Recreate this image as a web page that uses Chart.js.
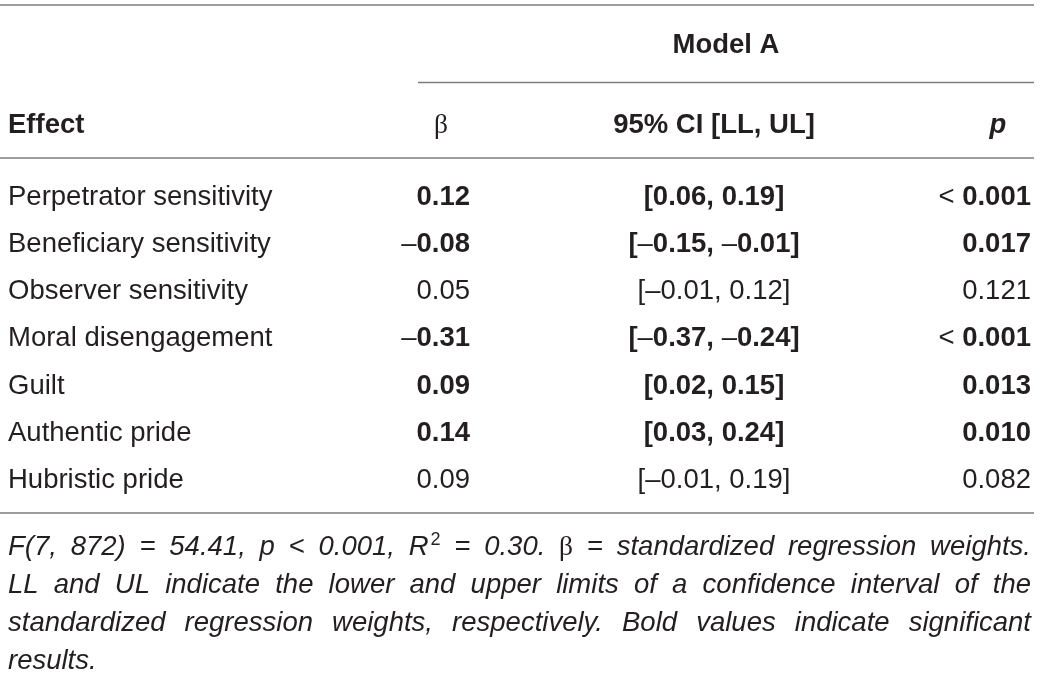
<!DOCTYPE html>
<html lang="en">
<head>
<meta charset="UTF-8" />
<title>Model A regression table</title>
<script src="https://cdn.jsdelivr.net/npm/chart.js"></script>
<style>
    body {
        margin: 0;
        background: #fff;
    }
    canvas {
        display: block;
    }
</style>
</head>
<body>
<canvas id="tabela" width="1040" height="675"></canvas>
<script>
    // Table data
    const effects = ['Perpetrator sensitivity', 'Beneficiary sensitivity', 'Observer sensitivity',
        'Moral disengagement', 'Guilt', 'Authentic pride', 'Hubristic pride'];
    const beta = [0.12, -0.08, 0.05, -0.31, 0.09, 0.14, 0.09];
    const ciLower = [0.06, -0.15, -0.01, -0.37, 0.02, 0.03, -0.01];
    const ciUpper = [0.19, -0.01, 0.12, -0.24, 0.15, 0.24, 0.19];
    const pValues = ['< 0.001', '0.017', '0.121', '< 0.001', '0.013', '0.010', '0.082'];
    const significant = [true, true, false, true, true, true, false];
    const headers = ['Effect', 'β', '95% CI [LL, UL]', 'p'];
    const groupTitle = 'Model A';
    const noteLines = [
        'F(7, 872) = 54.41, p < 0.001, R^2 = 0.30. β = standardized regression weights.',
        'LL and UL indicate the lower and upper limits of a confidence interval of the',
        'standardized regression weights, respectively. Bold values indicate significant',
        'results.'
    ];

    // Layout
    const SANS = '"Liberation Sans", Arial, Helvetica, sans-serif';
    const SERIF = '"Liberation Serif", "DejaVu Serif", serif';
    const FS = 27.5;
    const REG = `${FS}px ${SANS}`;
    const BOLD = `bold ${FS}px ${SANS}`;
    const TEXT = '#231f20';
    const RULE = '#7c7c7c';
    const cols = [
        { x: 8, align: 'left' },
        { x: 470, align: 'right' },
        { x: 714, align: 'center' },
        { x: 1031, align: 'right' }
    ];

    const fmt = v => v.toFixed(2).replace('-', '–');

    const columnText = [
        effects,
        beta.map(fmt),
        ciLower.map((lo, i) => `[${fmt(lo)}, ${fmt(ciUpper[i])}]`),
        pValues
    ];

    // bold values keep dashes and "<" in regular weight
    function segments(str, bold) {
        if (!bold) return [{ t: str, f: REG }];
        return str.split(/([–<])/).filter(s => s !== '')
            .map(s => ({ t: s, f: (s === '–' || s === '<') ? REG : BOLD }));
    }

    function drawRich(ctx, segs, x, y, align) {
        let total = 0;
        segs.forEach(s => { ctx.font = s.f; total += ctx.measureText(s.t).width; });
        let cx = align === 'left' ? x : align === 'right' ? x - total : x - total / 2;
        segs.forEach(s => {
            ctx.font = s.f;
            ctx.fillText(s.t, cx, y);
            cx += ctx.measureText(s.t).width;
        });
    }

    function hline(ctx, x1, x2, y) {
        ctx.beginPath();
        ctx.moveTo(x1, y);
        ctx.lineTo(x2, y);
        ctx.stroke();
    }

    // footnote words: italic, with upright beta and superscript
    const NOTE_FS = 27.5;
    const SUP_FS = 18;
    function wordWidth(ctx, w) {
        if (w === 'β') { ctx.font = `${NOTE_FS}px ${SERIF}`; return ctx.measureText(w).width; }
        if (w.includes('^')) {
            const [base, sup] = w.split('^');
            ctx.font = `italic ${NOTE_FS}px ${SANS}`;
            const a = ctx.measureText(base).width;
            ctx.font = `${SUP_FS}px ${SANS}`;
            return a + ctx.measureText(sup).width + 2;
        }
        ctx.font = `italic ${NOTE_FS}px ${SANS}`;
        return ctx.measureText(w).width;
    }
    function drawWord(ctx, w, x, y) {
        if (w === 'β') { ctx.font = `${NOTE_FS}px ${SERIF}`; ctx.fillText(w, x, y); return; }
        if (w.includes('^')) {
            const [base, sup] = w.split('^');
            ctx.font = `italic ${NOTE_FS}px ${SANS}`;
            ctx.fillText(base, x, y);
            const a = ctx.measureText(base).width;
            ctx.font = `${SUP_FS}px ${SANS}`;
            ctx.fillText(sup, x + a + 2, y - 10);
            return;
        }
        ctx.font = `italic ${NOTE_FS}px ${SANS}`;
        ctx.fillText(w, x, y);
    }

    const tablePlugin = {
        id: 'tablePlugin',
        afterDatasetsDraw(chart) {
            const ctx = chart.ctx;
            const capHalf = FS * 0.358;
            ctx.save();
            ctx.fillStyle = TEXT;
            ctx.textBaseline = 'alphabetic';
            ctx.textAlign = 'left';

            // rules
            ctx.strokeStyle = RULE;
            ctx.lineWidth = 1.5;
            const right = 1034;
            hline(ctx, 0, right, 5);
            hline(ctx, 418, right, 82.5);
            hline(ctx, 0, right, 158);
            hline(ctx, 0, right, 513);

            // group title and column headers
            drawRich(ctx, [{ t: groupTitle, f: BOLD }], 726, 43 + capHalf, 'center');
            const headY = 123 + capHalf;
            drawRich(ctx, [{ t: headers[0], f: BOLD }], cols[0].x, headY, 'left');
            drawRich(ctx, [{ t: headers[1], f: `${FS}px ${SERIF}` }], 441, headY, 'center');
            drawRich(ctx, [{ t: headers[2], f: BOLD }], cols[2].x, headY, 'center');
            drawRich(ctx, [{ t: headers[3], f: `italic bold ${FS}px ${SANS}` }], 998, headY, 'center');

            // cells, placed on the points of each column dataset
            chart.data.datasets.forEach((ds, k) => {
                chart.getDatasetMeta(k).data.forEach((pt, i) => {
                    const bold = k > 0 && significant[i];
                    drawRich(ctx, segments(columnText[k][i], bold), pt.x, pt.y + capHalf, cols[k].align);
                });
            });

            // footnote, justified
            const left = 8, width = 1031 - 8;
            const base0 = 555;
            noteLines.forEach((line, li) => {
                const y = base0 + li * 38;
                const words = line.split(' ');
                const widths = words.map(w => wordWidth(ctx, w));
                const sum = widths.reduce((a, b) => a + b, 0);
                const last = li === noteLines.length - 1;
                const gap = last ? 8 : (width - sum) / (words.length - 1);
                let x = left;
                words.forEach((w, j) => {
                    drawWord(ctx, w, x, y);
                    x += widths[j] + gap;
                });
            });
            ctx.restore();
        }
    };

    new Chart(document.getElementById('tabela'), {
        type: 'scatter',
        data: {
            datasets: columnText.map((vals, k) => ({
                label: headers[k],
                data: effects.map(e => ({ x: cols[k].x, y: e })),
                pointRadius: 0,
                showLine: false
            }))
        },
        options: {
            responsive: false,
            animation: false,
            layout: { padding: { top: 171.4, bottom: 173.2, left: 0, right: 0 } },
            scales: {
                x: { type: 'linear', min: 0, max: 1040, display: false },
                y: { type: 'category', labels: effects, offset: true, display: false }
            },
            plugins: {
                legend: { display: false },
                tooltip: { enabled: false }
            }
        },
        plugins: [tablePlugin]
    });
</script>
</body>
</html>
